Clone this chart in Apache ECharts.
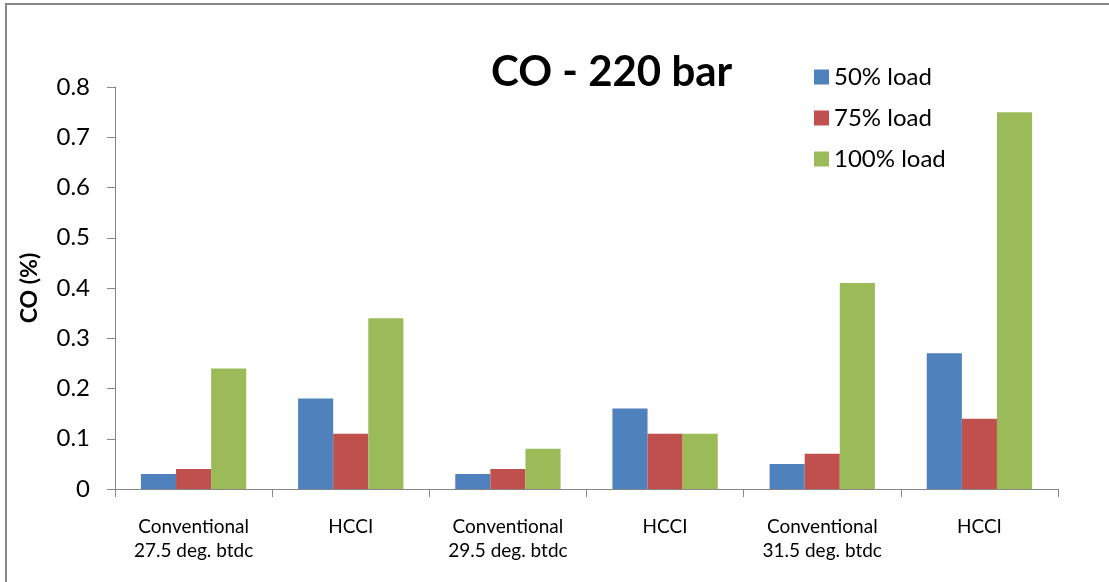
<!DOCTYPE html>
<html>
<head>
<meta charset="utf-8">
<script src="https://cdn.jsdelivr.net/npm/echarts@6/dist/echarts.min.js"></script>
<style>
  html, body { margin: 0; padding: 0; background: #ffffff; }
  #chart { width: 1109px; height: 582px; }
</style>
</head>
<body>
<div id="chart"></div>
<script>
// Injection timing cases and CO emissions (%) at 220 bar injection pressure
const categories = [
  'Conventional\n27.5 deg. btdc',
  'HCCI',
  'Conventional\n29.5 deg. btdc',
  'HCCI',
  'Conventional\n31.5 deg. btdc',
  'HCCI'
];
const seriesNames = ['50% load', '75% load', '100% load'];
const load50 = [0.03, 0.18, 0.03, 0.16, 0.05, 0.27];
const load75 = [0.04, 0.11, 0.04, 0.11, 0.07, 0.14];
const load100 = [0.24, 0.34, 0.08, 0.11, 0.41, 0.75];
const yMin = 0, yMax = 0.8, yStep = 0.1;

const colors = ['#4F81BD', '#C0504D', '#9BBB59'];
const font = 'Lato, "Noto Sans", sans-serif';
const axisGray = '#868686';

const chart = echarts.init(document.getElementById('chart'), null, { renderer: 'canvas' });

const values = [load50, load75, load100];

chart.setOption({
  animation: false,
  backgroundColor: '#ffffff',
  color: colors,
  title: {
    text: 'CO - 220 bar',
    left: 486,
    top: 46,
    textStyle: { fontFamily: font, fontWeight: 'bold', fontSize: 42, color: '#000000' }
  },
  legend: {
    orient: 'vertical',
    left: 814,
    top: 64,
    padding: 0,
    itemWidth: 15,
    itemHeight: 15,
    itemGap: 15,
    icon: 'rect',
    textStyle: { fontFamily: font, fontSize: 24, color: '#000000', lineHeight: 26 },
    data: seriesNames
  },
  graphic: [{
    type: 'rect',
    shape: { x: 6, y: 4, width: 1200, height: 700 },
    style: { fill: 'none', stroke: axisGray, lineWidth: 2 },
    silent: true
  }],
  grid: { left: 115, right: 51, top: 87, bottom: 93, containLabel: false },
  xAxis: {
    type: 'category',
    data: categories,
    axisLine: { lineStyle: { color: axisGray, width: 1 } },
    axisTick: { show: true, length: 8, alignWithLabel: false, lineStyle: { color: axisGray } },
    axisLabel: { fontFamily: font, fontSize: 19, color: '#000000', margin: 26, lineHeight: 24, interval: 0 }
  },
  yAxis: {
    type: 'value',
    min: yMin,
    max: yMax,
    interval: yStep,
    name: 'CO (%)',
    nameLocation: 'middle',
    nameGap: 74,
    nameTextStyle: { fontFamily: font, fontWeight: 'bold', fontSize: 23, color: '#000000' },
    splitLine: { show: false },
    axisLine: { show: true, lineStyle: { color: axisGray, width: 1 } },
    axisTick: { show: true, length: 8, lineStyle: { color: axisGray } },
    axisLabel: {
      fontFamily: font, fontSize: 24, color: '#000000', margin: 25,
      formatter: v => (v === 0 ? '0' : v.toFixed(1))
    }
  },
  series: seriesNames.map((name, i) => ({
    name,
    type: 'bar',
    data: values[i],
    barGap: '0%',
    barCategoryGap: '33%',
    itemStyle: { color: colors[i] }
  }))
});
</script>
</body>
</html>
